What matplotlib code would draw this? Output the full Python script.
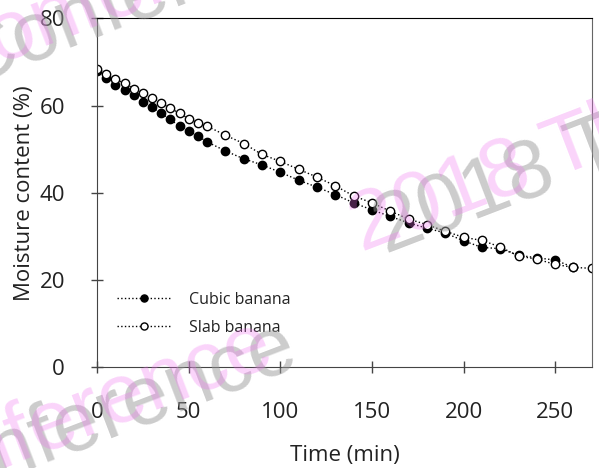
import matplotlib.pyplot as plt

# drying curves
time_cubic = [0, 5, 10, 15, 20, 25, 30, 35, 40, 45, 50, 55, 60, 70, 80, 90, 100,
              110, 120, 130, 140, 150, 160, 170, 180, 190, 200, 210, 220, 230, 240, 250, 260]
mc_cubic = [67.8, 66.2, 64.8, 63.6, 62.3, 60.7, 59.6, 58.2, 56.8, 55.3, 54.2, 53.0, 51.7,
            49.6, 47.8, 46.4, 44.7, 42.9, 41.3, 39.6, 37.7, 36.1, 34.6, 33.1, 31.9, 30.8,
            29.0, 27.5, 27.2, 25.7, 25.1, 24.6, 22.9]

time_slab = [0, 5, 10, 15, 20, 25, 30, 35, 40, 45, 50, 55, 60, 70, 80, 90, 100,
             110, 120, 130, 140, 150, 160, 170, 180, 190, 200, 210, 220, 230, 240, 250, 260, 270]
mc_slab = [68.4, 67.2, 66.0, 65.1, 63.9, 62.8, 61.8, 60.6, 59.4, 58.2, 57.0, 56.1, 55.3,
           53.2, 51.3, 48.8, 47.2, 45.4, 43.6, 41.6, 39.3, 37.7, 35.8, 34.0, 32.7, 31.2,
           29.8, 29.1, 27.6, 25.5, 24.8, 23.6, 22.9, 22.7]

x_ticks = [0, 50, 100, 150, 200, 250]
y_ticks = [0, 20, 40, 60, 80]

plt.rcParams['font.family'] = ['Open Sans', 'DejaVu Sans']
TXT = '#222222'
W, H = 599, 468

fig = plt.figure(figsize=(W / 100, H / 100), dpi=100)
ax = fig.add_axes([0.162, 0.215, 0.826, 0.746])

ax.plot(time_cubic, mc_cubic, ls=':', color='black', lw=1, marker='o', ms=6,
        mfc='black', mec='black', label='Cubic banana')
ax.plot(time_slab, mc_slab, ls=':', color='black', lw=1, marker='o', ms=6,
        mfc='white', mec='black', label='Slab banana')

ax.set_xlim(0, 270)
ax.set_ylim(0, 80)
ax.set_xticks(x_ticks)
ax.set_yticks(y_ticks)
ax.tick_params(axis='x', direction='inout', length=8, width=1, color='#444444',
               pad=21, labelsize=16, labelcolor=TXT)
ax.tick_params(axis='y', direction='inout', length=8, width=1, color='#444444',
               pad=19, labelsize=16, labelcolor=TXT)
for s in ['left', 'bottom']:
    ax.spines[s].set_color('#444444')
ax.spines['top'].set_color('black')
ax.spines['right'].set_color('#666666')

ax.set_xlabel('Time (min)', fontsize=16, color=TXT, labelpad=16)
ax.set_ylabel('Moisture content (%)', fontsize=16, color=TXT, labelpad=3)

ax.legend(loc='center left', bbox_to_anchor=(0.04, 0.153), frameon=False,
          fontsize=11.5, handlelength=3.4, handletextpad=1.1, labelspacing=0.75,
          markerscale=0.85, borderpad=0, borderaxespad=0, labelcolor=TXT)

# watermark (pink text with a grey copy shifted to the right)
wm = dict(fontsize=60, rotation=21, rotation_mode='anchor', va='baseline',
          family='Liberation Sans', zorder=10)
for dx, dy, col, a in [(24, 2, '#9a9a9a', 0.5), (0, 0, '#f070f0', 0.3)]:
    fig.text((278 + dx) / W, (H - 362 - dy) / H, 'Conference', ha='right',
             color=col, alpha=a, **wm)
    fig.text((362 + dx) / W, (H - 252 - dy) / H, '2018 Thailand', ha='left',
             color=col, alpha=a, **wm)
    fig.text((-58 + dx) / W, (H - 84 - dy) / H, 'Conference', ha='left',
             color=col, alpha=a, **wm)

fig.savefig('out.png', dpi=100)
